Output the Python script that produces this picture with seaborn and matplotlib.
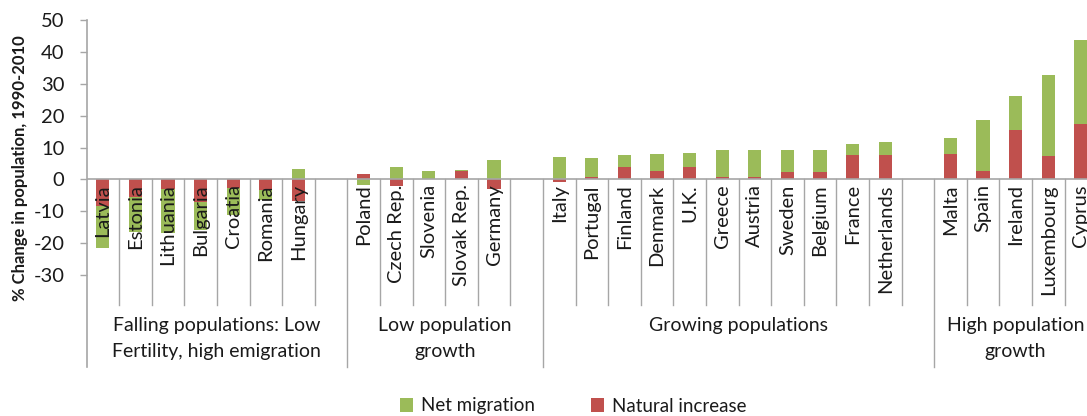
import matplotlib
matplotlib.use("Agg")
import matplotlib.pyplot as plt
import matplotlib.transforms as mtrans
import seaborn as sns
import pandas as pd
from matplotlib.patches import Patch

# ---------------- data ----------------
group1 = ["Latvia", "Estonia", "Lithuania", "Bulgaria", "Croatia", "Romania", "Hungary"]
group2 = ["Poland", "Czech Rep.", "Slovenia", "Slovak Rep.", "Germany"]
group3 = ["Italy", "Portugal", "Finland", "Denmark", "U.K.", "Greece", "Austria",
          "Sweden", "Belgium", "France", "Netherlands"]
group4 = ["Malta", "Spain", "Ireland", "Luxembourg", "Cyprus"]
group_labels = ["Falling populations: Low\nFertility, high emigration",
                "Low population\ngrowth",
                "Growing populations",
                "High population\ngrowth"]

natural_increase = [-8.5, -5.5, -3.1, -7.0, -2.8, -3.3, -6.7,
                    1.6, -2.0, 0.1, 2.6, -3.0,
                    -0.8, 0.8, 4.0, 2.6, 4.0, 0.8, 0.8, 2.2, 2.4, 7.7, 7.7,
                    8.1, 2.6, 15.6, 7.4, 17.4]
net_migration = [-13.2, -11.0, -13.9, -9.0, -8.4, -3.3, 3.1,
                 -1.8, 4.0, 2.4, 0.2, 6.1,
                 7.1, 6.0, 3.6, 5.3, 4.3, 8.4, 8.5, 7.1, 6.9, 3.4, 3.9,
                 4.9, 15.9, 10.7, 25.5, 26.3]
y_ticks = [-30, -20, -10, 0, 10, 20, 30, 40, 50]

GREEN = "#9BBB59"
RED = "#C0504D"
GRAY = "#A6A6A6"
TXT = "#1a1a1a"

countries = group1 + group2 + group3 + group4
groups = [group1, group2, group3, group4]

# category order with empty gap slots between groups
order = []
gap_names = []
for gi, g in enumerate(groups):
    order += g
    if gi < len(groups) - 1:
        gname = " " * (gi + 1)
        order.append(gname)
        gap_names.append(gname)

# Excel-style stacking: red (natural) next to zero, green (migration) beyond it
green_end = [n + m if n * m > 0 else m for n, m in zip(natural_increase, net_migration)]
df = pd.DataFrame({"country": countries, "natural": natural_increase,
                   "green_end": green_end})

# ---------------- figure ----------------
W, H = 1087, 416
fig = plt.figure(figsize=(W / 100, H / 100), dpi=100)
plt.rcParams["font.family"] = ["Lato", "DejaVu Sans"]

slot = 32.6
left_px = 86.5
zero_px = 179.3
ppu = 3.18
nslots = len(order)
ax_bottom_px = zero_px + 30 * ppu
ax = fig.add_axes([left_px / W, (H - ax_bottom_px) / H, nslots * slot / W, 80 * ppu / H])

sns.barplot(data=df, x="country", y="green_end", order=order, color=GREEN,
            saturation=1, width=0.41, linewidth=0, ax=ax, zorder=2)
sns.barplot(data=df, x="country", y="natural", order=order, color=RED,
            saturation=1, width=0.41, linewidth=0, ax=ax, zorder=3)

ax.set_xlim(-0.5, nslots - 0.5)
ax.set_ylim(-30, 50)
ax.set_yticks(y_ticks)
ax.set_yticklabels([str(t) for t in y_ticks])
ax.set_xticks([])
ax.set_xlabel("")
ax.set_ylabel("")
for s in ax.spines.values():
    s.set_visible(False)
ax.tick_params(axis="y", direction="out", length=5, width=1, color=GRAY,
               labelsize=14.5, pad=11, labelcolor=TXT)

# zero line and left axis line
ax.axhline(0, color=GRAY, lw=1.2, zorder=4)
short_end = (zero_px - 305) / ppu
long_end = (zero_px - 367) / ppu
ax.plot([-0.5, -0.5], [50, long_end], color=GRAY, lw=1.2, clip_on=False, zorder=4)

# separators
gap_idx = [order.index(g) for g in gap_names]
for i in range(nslots - 1):
    b = i + 0.5
    is_group = i in gap_idx
    ax.plot([b, b], [0, long_end if is_group else short_end], color=GRAY,
            lw=1.0, clip_on=False, zorder=1)

# country labels
off = mtrans.offset_copy(ax.transData, fig=fig, x=0, y=-5, units="dots")
for i, name in enumerate(order):
    if name in gap_names:
        continue
    ax.text(i, 0, name, rotation=90, ha="center", va="top", fontsize=14.5,
            color=TXT, transform=off, zorder=5, clip_on=False)

# group labels, centred on each group's span (group + trailing gap slot)
starts = [order.index(g[0]) for g in groups]
bounds = [s - 0.5 for s in starts] + [nslots - 0.5]
label_top = (zero_px - 317) / ppu
for k, lab in enumerate(group_labels):
    cx = (bounds[k] + bounds[k + 1]) / 2
    ax.text(cx, label_top, lab, ha="center", va="top",
            fontsize=14, color=TXT, linespacing=1.65, clip_on=False)

# y label
fig.text(20 / W, (H - 168) / H, "% Change in population, 1990-2010", rotation=90,
         ha="center", va="center", fontsize=12, fontweight="bold", color=TXT)

# legend
handles = [Patch(facecolor=GREEN, label="Net migration"),
           Patch(facecolor=RED, label="Natural increase")]
fig.legend(handles=handles, loc="center", bbox_to_anchor=(573 / W, 10 / H),
           ncol=2, frameon=False, handlelength=0.7, handleheight=0.7,
           columnspacing=3.0, handletextpad=0.4, fontsize=13.5, labelcolor=TXT)

fig.savefig("out.png", dpi=100)
